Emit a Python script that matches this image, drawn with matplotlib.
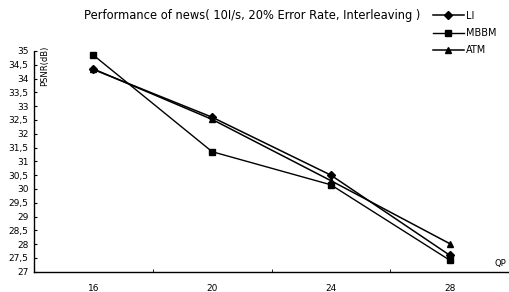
import numpy as np
import matplotlib.pyplot as plt

plt.rcParams.update({
    "font.family": "DejaVu Sans",
    "font.size": 6.5,
})

# data
qp = ["16", "20", "24", "28"]
li = [34.33, 32.6, 30.5, 27.6]
mbbm = [34.85, 31.35, 30.15, 27.42]
atm = [34.35, 32.52, 30.3, 28.02]
yticks = np.arange(27, 35.01, 0.5)

fig = plt.figure(figsize=(5.09, 2.92), dpi=100)
ax = fig.add_axes([34 / 509, 20.3 / 292, 475 / 509, (271.7 - 51) / 292])

x = np.arange(1, len(qp) + 1)
ax.plot(x, li, color="black", lw=1.1, marker="D", ms=4, label="LI")
ax.plot(x, mbbm, color="black", lw=1.0, marker="s", ms=4.5, label="MBBM")
ax.plot(x, atm, color="black", lw=1.1, marker="^", ms=4.5, label="ATM")

ax.set_xlim(0.5, 4.5)
ax.set_ylim(27, 35)
ax.set_yticks(yticks)
ax.set_yticklabels([f"{v:g}".replace(".", ",") for v in yticks])
ax.set_xticks(x)
ax.set_xticklabels(qp)
ax.set_xticks(np.arange(1.5, 4.5, 1), minor=True)
ax.tick_params(axis="x", which="major", length=0, pad=9)
ax.tick_params(axis="x", which="minor", length=2, direction="in")
ax.tick_params(axis="y", length=2, direction="in", pad=4)

for s in ["top", "right"]:
    ax.spines[s].set_visible(False)
ax.spines["left"].set_linestyle((0, (4, 1)))
ax.spines["left"].set_linewidth(1.0)
ax.spines["bottom"].set_linewidth(1.0)

ax.text(0.59, 34.45, "PSNR(dB)", rotation=90, ha="center", va="center", fontsize=6)
ax.text(4.43, 27.15, "QP", ha="center", va="bottom", fontsize=6)

fig.text(0.495, 0.948, "Performance of news( 10I/s, 20% Error Rate, Interleaving )",
         ha="center", va="center", fontsize=8.3)
fig.legend(loc="upper left", bbox_to_anchor=(424 / 509, 1 - 2 / 292), frameon=False,
           handlelength=3.2, handletextpad=0.2, labelspacing=0.75, fontsize=7)

fig.savefig("out.png", dpi=100)
